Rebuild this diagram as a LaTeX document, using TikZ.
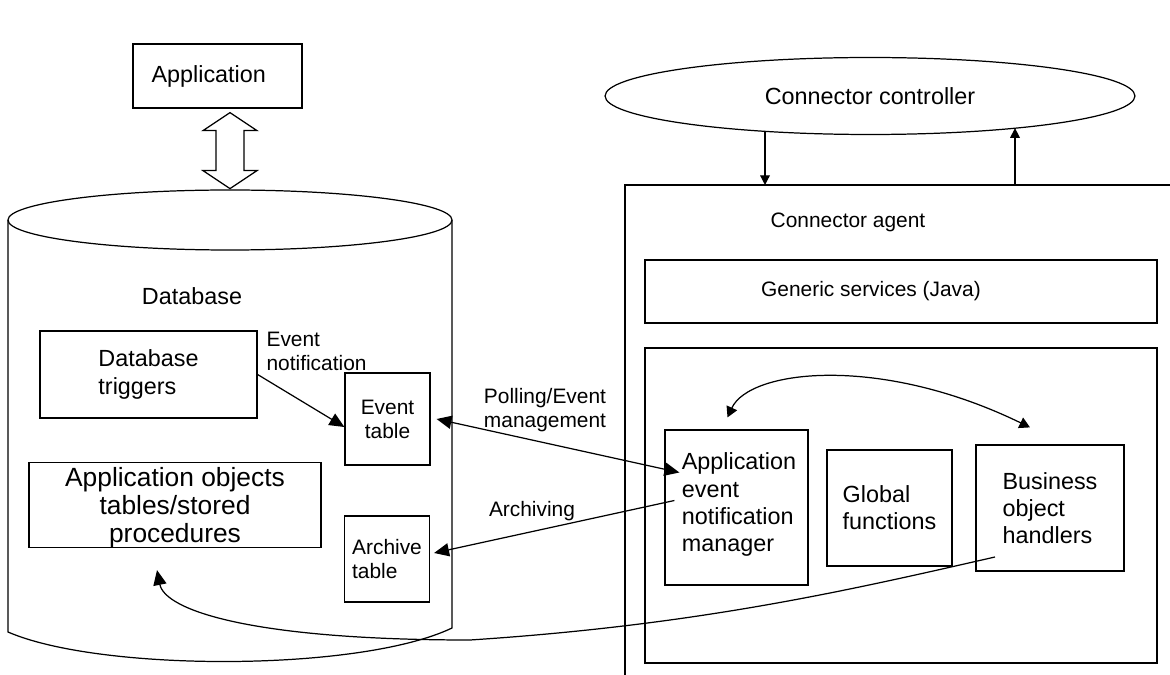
\documentclass[tikz,border=0pt]{standalone}
\usepackage{fontspec}
\setmainfont{Liberation Sans}
\usetikzlibrary{shapes.geometric,arrows.meta}
\newcommand{\fsmall}{\fontsize{11.9}{13.6}\selectfont}
\newcommand{\fbig}{\fontsize{13.3}{15.5}\selectfont}
\newcommand{\fhuge}{\fontsize{15}{15.8}\selectfont}
\tikzset{
  box/.style={draw, inner sep=0pt, align=left},
  tip/.style={arrows={-Triangle[length=8.5pt,width=7.5pt]}},
  tips/.style={arrows={Triangle[length=8.5pt,width=7.5pt]-Triangle[length=8.5pt,width=7.5pt]}},
  tipcurve/.style={arrows={Triangle[length=6pt,width=6.5pt]-Triangle[length=6pt,width=6.5pt]}},
  tipsmall/.style={arrows={-Triangle[length=5.5pt,width=5.5pt]}}
}

\begin{document}
\begin{tikzpicture}[x=0.02cm,y=-0.02cm,line width=0.7pt]
\useasboundingbox (0,0) rectangle (1170,675);
\fsmall
% application and database
\path (217.5,76) node[box,minimum width=3.38cm,minimum height=1.28cm,font=\fbig](app){Application\hspace*{0.35cm}};
\draw ([shift={(12.5,4)}]app.south) -- ++(27,18) -- ++(-13,0) -- ++(0,40) -- ++(13,0) -- ++(-27,18)
  -- ++(-27,-18) -- ++(13,0) -- ++(0,-40) -- ++(-13,0) -- cycle;
\draw (230,220) ellipse [x radius=222,y radius=30];
\draw (8,220) -- (8,632) .. controls (100,672) and (360,672) .. (452,628) -- (452,220);
\path (192,296) node[font=\fbig](dblab){Database};
% boxes in the database
\path (148.5,374.5) node[box,minimum width=4.34cm,minimum height=1.74cm,font=\fbig](dbt){Database\\triggers};
\path (259,351) node[anchor=west,align=left](evnote){Event\\notification};
\path (387.5,419) node[box,align=center,minimum width=1.7cm,minimum height=1.84cm](evt){Event\\table};
\path (175,505) node[box,align=center,text depth=0pt,minimum width=5.84cm,minimum height=1.7cm,font=\fhuge](appobj){Application objects\\tables/stored\\procedures};
\path (387,559) node[box,minimum width=1.7cm,minimum height=1.72cm](arch){Archive\\table};
% connector controller and agent
\path (870,96) node[draw,ellipse,minimum width=10.6cm,minimum height=1.54cm,font=\fbig](ctrl){Connector controller};
\draw (1170,185) -| (625,675);
\coordinate (agdown) at (765,185); \coordinate (agup) at (1015,185);
\path (848,222) node(aglab){Connector agent};
\path (901,291.5) node[box,minimum width=10.24cm,minimum height=1.26cm](gen){Generic services (Java)\hspace*{1.2cm}};
\path (901,505.5) node[box,minimum width=10.24cm,minimum height=6.3cm](inbox){};
\path (736.5,507.5) node[box,text depth=6pt,minimum width=2.86cm,minimum height=3.1cm,font=\fbig](aenm){\hspace*{0.1cm}Application\\\hspace*{0.1cm}event\\\hspace*{0.1cm}notification\\\hspace*{0.1cm}manager};
\path (889.5,508) node[box,minimum width=2.5cm,minimum height=2.32cm,font=\fbig](glob){Global\\functions};
\path (1050,508) node[box,minimum width=2.96cm,minimum height=2.52cm,font=\fbig](boh){Business\\object\\handlers};
% labels on the links
\path (545,410) node[align=left](poll){Polling/Event\\management};
\path (532,511) node(archlab){Archiving};
% links
\draw[tipsmall] (agdown |- ctrl.198) -- (agdown);
\draw[tipsmall] (agup) -- (agup |- ctrl.348);
\draw[tip] (dbt.east) -- ([shift={(0,8)}]evt.west);
\draw[tips] ([shift={(6,0)}]evt.east) -- ([shift={(15,-35)}]aenm.west);
\draw[tip] ([shift={(10,-7)}]aenm.west) -- ([shift={(4,-6)}]arch.east);
\draw[tipcurve] ([shift={(-9,-12)}]aenm.north) .. controls +(22,-48) and +(-150,-73) .. ([shift={(-20,-17)}]boh.north);
\draw[tip] ([shift={(-55,49)}]boh.center) .. controls (850,590) and (700,625) .. (470,640)
  .. controls (250,640) and (165,610) .. ([shift={(-18,22)}]appobj.south);
\end{tikzpicture}
\end{document}
